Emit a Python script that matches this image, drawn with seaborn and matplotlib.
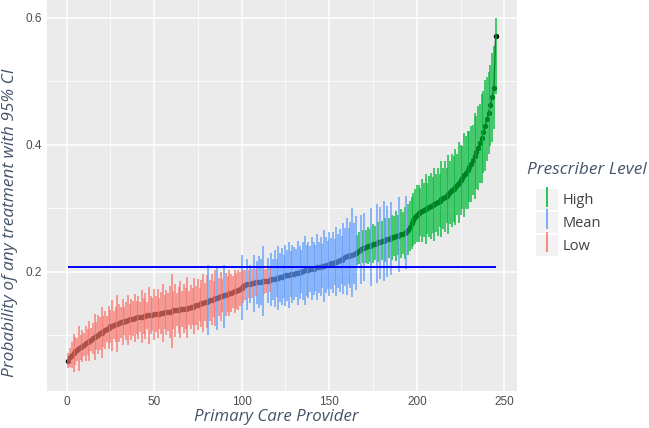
import numpy as np
import pandas as pd
import seaborn as sns
import matplotlib
matplotlib.use("Agg")
from matplotlib import pyplot as plt
from matplotlib.lines import Line2D
from matplotlib.patches import Patch
from matplotlib.legend_handler import HandlerTuple
from matplotlib.ticker import MultipleLocator

# provider-level estimated probability with 95% CI (sorted by estimate)
estimate = [
    0.060, 0.065, 0.069, 0.072, 0.075, 0.077, 0.079, 0.081, 0.083, 0.085,
    0.087, 0.089, 0.091, 0.093, 0.095, 0.097, 0.099, 0.101, 0.103, 0.104,
    0.106, 0.108, 0.110, 0.112, 0.114, 0.115, 0.116, 0.117, 0.118, 0.119,
    0.120, 0.121, 0.122, 0.123, 0.124, 0.125, 0.125, 0.126, 0.127, 0.128,
    0.128, 0.129, 0.129, 0.130, 0.130, 0.131, 0.131, 0.132, 0.132, 0.133,
    0.133, 0.134, 0.134, 0.135, 0.135, 0.136, 0.136, 0.137, 0.137, 0.138,
    0.139, 0.139, 0.140, 0.140, 0.141, 0.141, 0.142, 0.142, 0.143, 0.143,
    0.144, 0.145, 0.146, 0.147, 0.148, 0.149, 0.150, 0.151, 0.152, 0.153,
    0.154, 0.155, 0.156, 0.157, 0.158, 0.159, 0.160, 0.161, 0.162, 0.163,
    0.164, 0.165, 0.166, 0.167, 0.168, 0.169, 0.170, 0.171, 0.173, 0.175,
    0.177, 0.179, 0.180, 0.181, 0.181, 0.182, 0.182, 0.183, 0.183, 0.184,
    0.184, 0.185, 0.185, 0.186, 0.186, 0.187, 0.188, 0.188, 0.189, 0.190,
    0.190, 0.191, 0.192, 0.193, 0.194, 0.194, 0.195, 0.196, 0.196, 0.197,
    0.198, 0.198, 0.199, 0.200, 0.201, 0.202, 0.202, 0.203, 0.204, 0.205,
    0.205, 0.206, 0.207, 0.207, 0.208, 0.209, 0.209, 0.210, 0.211, 0.212,
    0.213, 0.214, 0.215, 0.216, 0.217, 0.218, 0.219, 0.221, 0.223, 0.224,
    0.225, 0.226, 0.227, 0.228, 0.229, 0.231, 0.233, 0.235, 0.237, 0.238,
    0.239, 0.240, 0.241, 0.242, 0.243, 0.244, 0.245, 0.246, 0.247, 0.248,
    0.249, 0.250, 0.251, 0.252, 0.253, 0.254, 0.255, 0.256, 0.257, 0.258,
    0.259, 0.260, 0.261, 0.262, 0.266, 0.271, 0.276, 0.281, 0.286, 0.290,
    0.292, 0.294, 0.296, 0.297, 0.299, 0.300, 0.302, 0.303, 0.305, 0.306,
    0.308, 0.310, 0.312, 0.314, 0.316, 0.318, 0.320, 0.322, 0.325, 0.328,
    0.331, 0.334, 0.337, 0.340, 0.344, 0.348, 0.352, 0.356, 0.360, 0.365,
    0.370, 0.376, 0.382, 0.388, 0.395, 0.402, 0.410, 0.420, 0.430, 0.440,
    0.450, 0.462, 0.475, 0.489, 0.571,
]

ci_low = [
    0.048, 0.050, 0.049, 0.042, 0.053, 0.059, 0.044, 0.061, 0.058, 0.067,
    0.059, 0.069, 0.059, 0.075, 0.071, 0.061, 0.077, 0.071, 0.077, 0.064,
    0.082, 0.078, 0.090, 0.078, 0.088, 0.075, 0.094, 0.089, 0.073, 0.089,
    0.095, 0.085, 0.100, 0.093, 0.084, 0.101, 0.093, 0.098, 0.089, 0.102,
    0.094, 0.105, 0.087, 0.102, 0.094, 0.109, 0.086, 0.102, 0.106, 0.093,
    0.105, 0.096, 0.110, 0.102, 0.089, 0.109, 0.101, 0.107, 0.096, 0.080,
    0.109, 0.097, 0.114, 0.104, 0.096, 0.113, 0.104, 0.110, 0.095, 0.116,
    0.109, 0.116, 0.102, 0.116, 0.108, 0.123, 0.113, 0.105, 0.122, 0.111,
    0.100, 0.123, 0.116, 0.129, 0.114, 0.108, 0.130, 0.123, 0.136, 0.112,
    0.130, 0.137, 0.130, 0.137, 0.143, 0.135, 0.142, 0.140, 0.146, 0.124,
    0.151, 0.155, 0.140, 0.159, 0.151, 0.159, 0.137, 0.161, 0.149, 0.143,
    0.148, 0.130, 0.165, 0.167, 0.151, 0.168, 0.146, 0.156, 0.144, 0.160,
    0.140, 0.153, 0.147, 0.159, 0.146, 0.154, 0.143, 0.160, 0.150, 0.155,
    0.160, 0.148, 0.157, 0.166, 0.155, 0.147, 0.162, 0.159, 0.168, 0.155,
    0.163, 0.170, 0.155, 0.167, 0.162, 0.175, 0.153, 0.166, 0.173, 0.162,
    0.173, 0.166, 0.179, 0.162, 0.175, 0.168, 0.181, 0.165, 0.177, 0.164,
    0.181, 0.174, 0.160, 0.180, 0.171, 0.210, 0.212, 0.180, 0.213, 0.185,
    0.214, 0.212, 0.216, 0.178, 0.213, 0.218, 0.182, 0.215, 0.188, 0.219,
    0.186, 0.216, 0.192, 0.221, 0.195, 0.219, 0.224, 0.217, 0.226, 0.200,
    0.222, 0.228, 0.220, 0.204, 0.226, 0.232, 0.236, 0.240, 0.244, 0.246,
    0.247, 0.256, 0.246, 0.255, 0.244, 0.260, 0.254, 0.251, 0.261, 0.248,
    0.262, 0.256, 0.270, 0.254, 0.268, 0.262, 0.276, 0.260, 0.275, 0.270,
    0.279, 0.274, 0.289, 0.276, 0.289, 0.298, 0.286, 0.298, 0.298, 0.309,
    0.310, 0.321, 0.314, 0.330, 0.329, 0.340, 0.340, 0.356, 0.358, 0.374,
    0.385, 0.398, 0.405, 0.425, 0.480,
]

ci_high = [
    0.072, 0.080, 0.089, 0.102, 0.097, 0.095, 0.114, 0.101, 0.108, 0.103,
    0.115, 0.109, 0.123, 0.111, 0.119, 0.133, 0.121, 0.131, 0.129, 0.144,
    0.130, 0.138, 0.130, 0.146, 0.140, 0.155, 0.138, 0.145, 0.163, 0.149,
    0.145, 0.157, 0.144, 0.153, 0.164, 0.149, 0.157, 0.154, 0.165, 0.154,
    0.162, 0.153, 0.171, 0.158, 0.166, 0.153, 0.176, 0.162, 0.158, 0.173,
    0.161, 0.172, 0.158, 0.168, 0.181, 0.163, 0.171, 0.167, 0.178, 0.196,
    0.169, 0.181, 0.166, 0.176, 0.186, 0.169, 0.180, 0.174, 0.191, 0.170,
    0.179, 0.174, 0.190, 0.178, 0.188, 0.175, 0.187, 0.197, 0.182, 0.195,
    0.210, 0.187, 0.196, 0.185, 0.202, 0.209, 0.190, 0.199, 0.188, 0.210,
    0.198, 0.193, 0.202, 0.197, 0.193, 0.203, 0.198, 0.202, 0.200, 0.226,
    0.203, 0.203, 0.220, 0.203, 0.211, 0.205, 0.227, 0.205, 0.217, 0.224,
    0.220, 0.240, 0.205, 0.205, 0.221, 0.206, 0.230, 0.220, 0.234, 0.220,
    0.240, 0.229, 0.237, 0.227, 0.242, 0.234, 0.247, 0.232, 0.242, 0.239,
    0.236, 0.248, 0.241, 0.234, 0.247, 0.257, 0.242, 0.247, 0.240, 0.255,
    0.247, 0.242, 0.259, 0.247, 0.254, 0.243, 0.265, 0.254, 0.249, 0.262,
    0.253, 0.262, 0.251, 0.270, 0.259, 0.268, 0.257, 0.277, 0.269, 0.284,
    0.269, 0.278, 0.300, 0.276, 0.287, 0.258, 0.262, 0.290, 0.266, 0.292,
    0.266, 0.270, 0.268, 0.300, 0.275, 0.272, 0.306, 0.279, 0.302, 0.280,
    0.312, 0.284, 0.304, 0.285, 0.310, 0.290, 0.288, 0.295, 0.290, 0.318,
    0.298, 0.294, 0.302, 0.320, 0.306, 0.312, 0.318, 0.324, 0.330, 0.336,
    0.337, 0.332, 0.346, 0.339, 0.354, 0.340, 0.350, 0.355, 0.349, 0.364,
    0.354, 0.364, 0.354, 0.374, 0.364, 0.374, 0.364, 0.384, 0.375, 0.386,
    0.383, 0.394, 0.385, 0.404, 0.399, 0.398, 0.418, 0.414, 0.422, 0.421,
    0.430, 0.431, 0.450, 0.446, 0.461, 0.464, 0.480, 0.484, 0.502, 0.506,
    0.515, 0.526, 0.545, 0.555, 0.600,
]

overall_mean = 0.207
level_names = ["High", "Mean", "Low"]
level_colors = {"High": "#00BA38", "Mean": "#619CFF", "Low": "#F8766D"}

df = pd.DataFrame({
    "provider": np.arange(1, len(estimate) + 1),
    "estimate": estimate,
    "low": ci_low,
    "high": ci_high,
})
# CI entirely below / above the overall mean -> Low / High
df["level"] = np.where(df["high"] < overall_mean, "Low",
                       np.where(df["low"] > overall_mean, "High", "Mean"))

sns.set_theme(style="darkgrid", rc={
    "axes.facecolor": "#EBEBEB",
    "grid.color": "white",
    "axes.edgecolor": "none",
})
plt.rcParams["font.family"] = ["Liberation Sans", "DejaVu Sans"]

fig = plt.figure(figsize=(6.49, 4.28), dpi=100)
ax = fig.add_axes([0.0724, 0.0864, 0.7242, 0.9136])

title_color = "#44546A"

ax.plot(df["provider"], df["estimate"], color="black", lw=0.9, zorder=2)
sns.scatterplot(data=df, x="provider", y="estimate", color="black", s=15,
                linewidth=0, ax=ax, zorder=3, legend=False)
for name in level_names:
    sub = df[df["level"] == name]
    ax.vlines(sub["provider"], sub["low"], sub["high"],
              color=level_colors[name], lw=1.25, alpha=0.8, zorder=4)

ax.hlines(overall_mean, df["provider"].min(), df["provider"].max(),
          color="#0000FF", lw=1.4, zorder=5)

ax.set_xlim(-11.2, 257.2)
ax.set_ylim(0.012, 0.628)
ax.xaxis.set_major_locator(MultipleLocator(50))
ax.xaxis.set_minor_locator(MultipleLocator(25))
ax.yaxis.set_major_locator(MultipleLocator(0.2))
ax.yaxis.set_minor_locator(MultipleLocator(0.1))
ax.grid(which="major", color="white", lw=1.1)
ax.grid(which="minor", color="white", lw=0.55)
ax.set_xticks([0, 50, 100, 150, 200, 250])
ax.set_yticks([0.2, 0.4, 0.6])
ax.set_yticklabels(["0.2", "0.4", "0.6"])
ax.tick_params(axis="both", which="major", length=2.4, width=1.0,
               color="#333333", labelcolor="#4D4D4D", labelsize=8.5, pad=1.2)
ax.tick_params(axis="both", which="minor", length=0)

ax.set_xlabel("Primary Care Provider", fontsize=12.2, style="italic",
              color=title_color, family="Open Sans")
ax.set_ylabel("Probability of any treatment with 95% CI", fontsize=12.4,
              style="italic", color=title_color, family="Open Sans")
ax.xaxis.set_label_coords(0.487, -0.046)
ax.yaxis.set_label_coords(-0.062, 0.43)

fig.text(527 / 649, 1 - 170 / 428, "Prescriber Level", fontsize=12.4,
         style="italic", color=title_color, family="Open Sans",
         ha="left", va="center")

handles = [(Patch(facecolor="#F2F2F2", edgecolor="none"),
            Line2D([0], [0], color=level_colors[n], marker="|", markersize=15,
                   markeredgewidth=1.3, linestyle="None", alpha=0.9))
           for n in level_names]
leg = fig.legend(handles, level_names,
                 loc="upper left", bbox_to_anchor=(536 / 649, 1 - 189 / 428),
                 frameon=False, handlelength=1.5, handleheight=1.85,
                 handletextpad=0.3, labelspacing=0.12, borderaxespad=0,
                 borderpad=0, fontsize=10.5,
                 handler_map={tuple: HandlerTuple(ndivide=1, pad=0)})
for t in leg.get_texts():
    t.set_color("#404040")
    t.set_family("Open Sans")

fig.savefig("out.png", dpi=100)
